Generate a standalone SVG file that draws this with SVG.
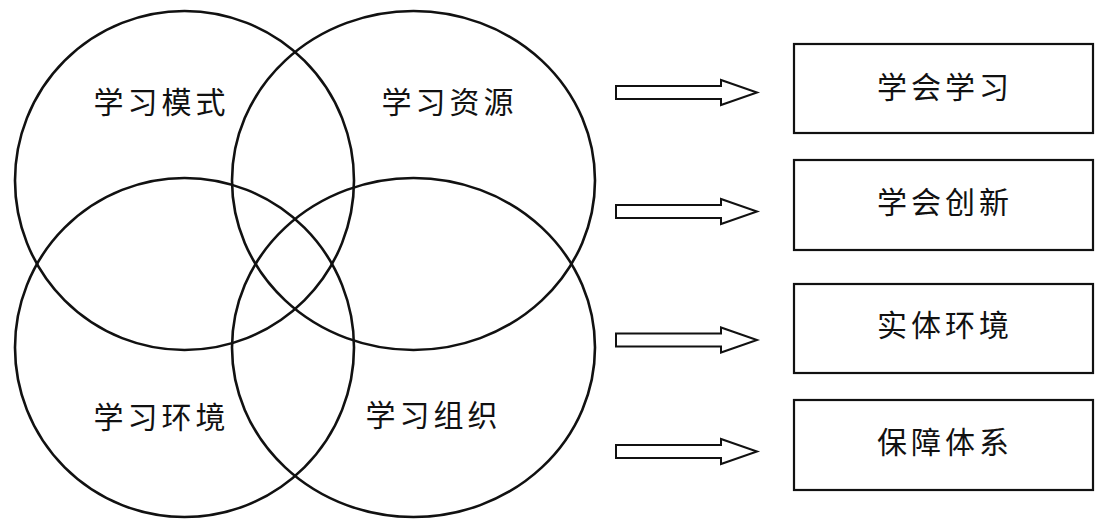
<svg xmlns="http://www.w3.org/2000/svg" width="1098" height="531" viewBox="0 0 1098 531">
<style>
.c{fill:none;stroke:#111;stroke-width:2.6}
.b{fill:#fff;stroke:#111;stroke-width:2.2}
.a{fill:#fff;stroke:#111;stroke-width:2;stroke-linejoin:miter}
.t{font-family:"Noto Sans CJK SC","Noto Sans CJK JP",sans-serif;font-size:30px;fill:#111;text-anchor:middle;dominant-baseline:central;letter-spacing:4px}
</style>
<rect width="1098" height="531" fill="#fff"/>
<g id="circle-mode"><ellipse class="c" cx="184.5" cy="180.5" rx="169.5" ry="169.5"/><text class="t" x="161.5" y="100">学习模式</text></g>
<g id="circle-resource"><ellipse class="c" cx="413.5" cy="180.5" rx="181.5" ry="169.5"/><text class="t" x="449.5" y="100">学习资源</text></g>
<g id="circle-env"><ellipse class="c" cx="184.5" cy="347.5" rx="169.5" ry="169.5"/><text class="t" x="161.5" y="415">学习环境</text></g>
<g id="circle-org"><ellipse class="c" cx="413.5" cy="347.5" rx="181.5" ry="169.5"/><text class="t" x="433.5" y="413">学习组织</text></g>
<g id="connectors">
<path class="a" d="M616,86 H721 V80 L757,92.5 L721,105 V99 H616 Z"/>
<path class="a" d="M616,205 H721 V199 L757,211.5 L721,224 V218 H616 Z"/>
<path class="a" d="M616,333.5 H721 V327.5 L757,340 L721,352.5 V346.5 H616 Z"/>
<path class="a" d="M616,445 H721 V439 L757,451.5 L721,464 V458 H616 Z"/>
</g>
<g id="box-learn"><rect class="b" x="794" y="44" width="299" height="89"/><text class="t" x="945" y="85">学会学习</text></g>
<g id="box-innovate"><rect class="b" x="794" y="160" width="299" height="90"/><text class="t" x="945" y="200">学会创新</text></g>
<g id="box-physical"><rect class="b" x="794" y="284" width="299" height="89"/><text class="t" x="945" y="322.5">实体环境</text></g>
<g id="box-support"><rect class="b" x="794" y="400" width="299" height="90"/><text class="t" x="945" y="440">保障体系</text></g>
</svg>
